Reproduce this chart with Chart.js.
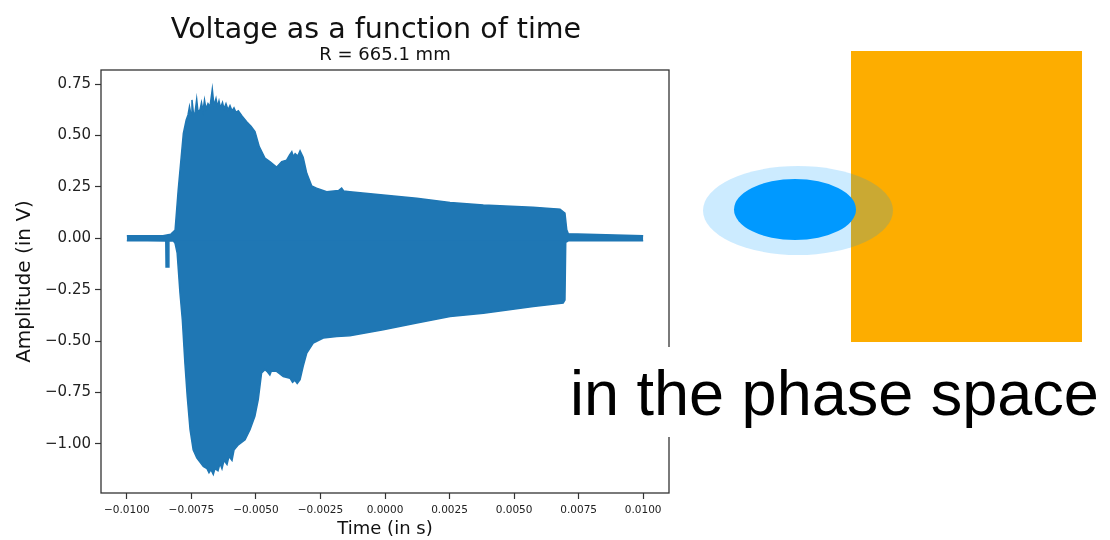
<!DOCTYPE html>
<html lang="en">
<head>
    <meta charset="UTF-8">
    <meta name="viewport" content="width=device-width, initial-scale=1.0">
    <script src="https://cdn.jsdelivr.net/npm/chart.js@4.4.0/dist/chart.umd.min.js"></script>
    <title>Voltage as a function of time</title>
    <style>
        body { margin: 0; background: #fff; }
        #wrap { position: relative; width: 1110px; height: 540px; overflow: hidden; }
        #chart { position: absolute; left: 0; top: 0; }
        .shape { position: absolute; }
        #box { left: 851px; top: 51px; width: 231px; height: 291px; background: #fdad00; }
        #halo { left: 703px; top: 166px; width: 190px; height: 89px; border-radius: 50%; background: rgba(0, 153, 255, 0.2); }
        #core { left: 734px; top: 179px; width: 122px; height: 61px; border-radius: 50%; background: #0099ff; }
        #caption {
            left: 562px; top: 347px; width: 548px; height: 90px; overflow: hidden;
            padding-left: 8px; box-sizing: border-box; background: #fff;
            font-family: "Liberation Sans", Arial, sans-serif; font-size: 63px; line-height: 93px; color: #000;
            white-space: nowrap;
        }
    </style>
</head>
<body>
    <div id="wrap">
        <canvas id="chart" width="700" height="540"></canvas>
        <div class="shape" id="box"></div>
        <div class="shape" id="halo"></div>
        <div class="shape" id="core"></div>
        <div class="shape" id="caption">in the phase space</div>
    </div>

    <script>
        // upper edge of the oscillation (time in s, amplitude in V)
        const upperTime = [
            -0.0100, -0.0092, -0.0086, -0.0083, -0.00813, -0.00801, -0.00781, -0.00770,
            -0.00763, -0.007573, -0.007514, -0.007476, -0.007417, -0.007359, -0.007294, -0.007243,
            -0.007166, -0.007108, -0.00705, -0.006991, -0.006933, -0.006856, -0.006778, -0.006689,
            -0.006624, -0.006546, -0.006488, -0.00643, -0.006372, -0.006294, -0.006236, -0.006159,
            -0.006081, -0.006004, -0.005926, -0.005849, -0.005771, -0.005682, -0.005539, -0.005357,
            -0.005191, -0.005036, -0.00487, -0.00465, -0.00446, -0.00420, -0.00400, -0.00381,
            -0.00370, -0.00361, -0.00355, -0.00348, -0.00338, -0.00329, -0.00317, -0.00303,
            -0.00284, -0.00265, -0.00226, -0.00180, -0.00168, -0.00160, -0.00136, -0.00007,
            0.00123, 0.00252, 0.00381, 0.00573, 0.00678, 0.00697, 0.00704, 0.00710, 0.0100
        ];
        const upperVolts = [
            0.012, 0.012, 0.013, 0.020, 0.040, 0.235, 0.510, 0.575,
            0.600, 0.640, 0.600, 0.673, 0.605, 0.610, 0.676, 0.615,
            0.625, 0.660, 0.620, 0.672, 0.630, 0.655, 0.640, 0.725,
            0.645, 0.680, 0.640, 0.668, 0.635, 0.660, 0.630, 0.655,
            0.625, 0.645, 0.620, 0.635, 0.612, 0.620, 0.595, 0.567,
            0.545, 0.519, 0.446, 0.390, 0.373, 0.346, 0.373, 0.380,
            0.405, 0.421, 0.398, 0.412, 0.400, 0.426, 0.394, 0.316,
            0.255, 0.244, 0.227, 0.232, 0.244, 0.230, 0.227, 0.211,
            0.195, 0.174, 0.162, 0.151, 0.142, 0.122, 0.041, 0.022, 0.012
        ];

        // lower edge of the oscillation
        const lowerTime = [
            -0.0100, -0.0092, -0.00849, -0.00848, -0.00838, -0.00837, -0.00820, -0.00813,
            -0.00805, -0.00794, -0.00785, -0.00775, -0.00766, -0.00755, -0.00743, -0.00729,
            -0.007038, -0.006895, -0.006817, -0.00674, -0.006651, -0.006585, -0.006469, -0.006391,
            -0.006314, -0.006236, -0.00612, -0.006043, -0.005926, -0.005849, -0.005682, -0.00542,
            -0.00523, -0.00504, -0.00491, -0.00478, -0.00465, -0.00455, -0.00446, -0.00440,
            -0.00420, -0.00394, -0.00368, -0.00358, -0.00349, -0.00340, -0.00329, -0.00317,
            -0.00303, -0.00278, -0.00239, -0.00187, -0.00136, -0.00007, 0.00123, 0.00252,
            0.00381, 0.00574, 0.00690, 0.00697, 0.00700, 0.00710, 0.0100
        ];
        const lowerVolts = [
            -0.012, -0.012, -0.013, -0.140, -0.140, -0.013, -0.012, -0.024,
            -0.072, -0.267, -0.396, -0.607, -0.769, -0.931, -1.028, -1.068,
            -1.109, -1.120, -1.140, -1.125, -1.148, -1.120, -1.130, -1.095,
            -1.120, -1.080, -1.100, -1.060, -1.080, -1.030, -1.004, -0.980,
            -0.931, -0.866, -0.785, -0.655, -0.639, -0.650, -0.665, -0.645,
            -0.647, -0.672, -0.680, -0.700, -0.690, -0.706, -0.688, -0.623,
            -0.558, -0.509, -0.485, -0.477, -0.474, -0.445, -0.412, -0.380,
            -0.364, -0.332, -0.315, -0.300, -0.020, -0.012, -0.012
        ];

        const xTicks = [-0.0100, -0.0075, -0.0050, -0.0025, 0.0000, 0.0025, 0.0050, 0.0075, 0.0100];
        const yTicks = [0.75, 0.50, 0.25, 0.00, -0.25, -0.50, -0.75, -1.00];

        const blue = '#1f77b4';
        const ink = '#222';
        const face = 'DejaVu Sans';

        function points(ts, vs) {
            return ts.map((t, i) => ({ x: t, y: vs[i] }));
        }

        function signed(v, digits) {
            const s = Math.abs(v).toFixed(digits);
            return v < -1e-12 ? '\u2212' + s : s;
        }

        // box around the plot area, like matplotlib spines
        const frame = {
            id: 'frame',
            afterDatasetsDraw(chart) {
                const { ctx, chartArea: a } = chart;
                ctx.save();
                ctx.strokeStyle = '#333';
                ctx.lineWidth = 1.3;
                ctx.strokeRect(a.left, a.top, a.right - a.left, a.bottom - a.top);
                ctx.restore();
            }
        };

        // figure title sits above the axes title
        const suptitle = {
            id: 'suptitle',
            afterDraw(chart) {
                const ctx = chart.ctx;
                ctx.save();
                ctx.font = '28.5px "' + face + '"';
                ctx.fillStyle = '#111';
                ctx.textAlign = 'center';
                ctx.textBaseline = 'alphabetic';
                ctx.fillText('Voltage as a function of time', 376, 37.5);
                ctx.restore();
            }
        };

        // both edges fill a little past zero so the band has no seam
        const ctx = document.getElementById('chart');
        new Chart(ctx, {
            type: 'line',
            data: {
                datasets: [
                    {
                        data: points(upperTime, upperVolts),
                        borderColor: blue, backgroundColor: blue, borderWidth: 1.5,
                        pointRadius: 0, tension: 0, fill: { value: -0.012 }
                    },
                    {
                        data: points(lowerTime, lowerVolts),
                        borderColor: blue, backgroundColor: blue, borderWidth: 1.5,
                        pointRadius: 0, tension: 0, fill: { value: 0.012 }
                    }
                ]
            },
            options: {
                responsive: false,
                animation: false,
                devicePixelRatio: 1,
                layout: { padding: { top: 45, right: 31, bottom: 0, left: 0 } },
                plugins: {
                    legend: { display: false },
                    tooltip: { enabled: false },
                    subtitle: {
                        display: true,
                        text: 'R = 665.1 mm',
                        fullSize: false,
                        color: '#111',
                        font: { family: face, size: 18, weight: 'normal' },
                        padding: { top: 0, bottom: 3.4 }
                    }
                },
                scales: {
                    x: {
                        type: 'linear',
                        min: -0.011,
                        max: 0.011,
                        afterBuildTicks: s => { s.ticks = xTicks.map(v => ({ value: v })); },
                        afterFit: s => { s.height = 47; },
                        ticks: {
                            autoSkip: false, maxRotation: 0, padding: 5, color: ink,
                            font: { family: face, size: 10.5 },
                            callback: v => signed(v, 4)
                        },
                        grid: { drawOnChartArea: false, drawTicks: true, tickLength: 6, tickColor: '#333', tickWidth: 1.2 },
                        border: { display: false },
                        title: {
                            display: true, text: 'Time (in s)', color: '#111',
                            font: { family: face, size: 18 },
                            padding: { top: 0, bottom: 0 }
                        }
                    },
                    y: {
                        min: -1.2385,
                        max: 0.8185,
                        afterBuildTicks: s => { s.ticks = yTicks.map(v => ({ value: v })); },
                        afterFit: s => { s.width = 101; },
                        ticks: {
                            padding: 4, color: ink,
                            font: { family: face, size: 15 },
                            callback: v => signed(v, 2)
                        },
                        grid: { drawOnChartArea: false, drawTicks: true, tickLength: 6, tickColor: '#333', tickWidth: 1.2 },
                        border: { display: false },
                        title: {
                            display: true, text: 'Amplitude (in V)', color: '#111',
                            font: { family: face, size: 20 },
                            padding: { top: 13, bottom: 0 }
                        }
                    }
                }
            },
            plugins: [frame, suptitle]
        });
    </script>
</body>
</html>
